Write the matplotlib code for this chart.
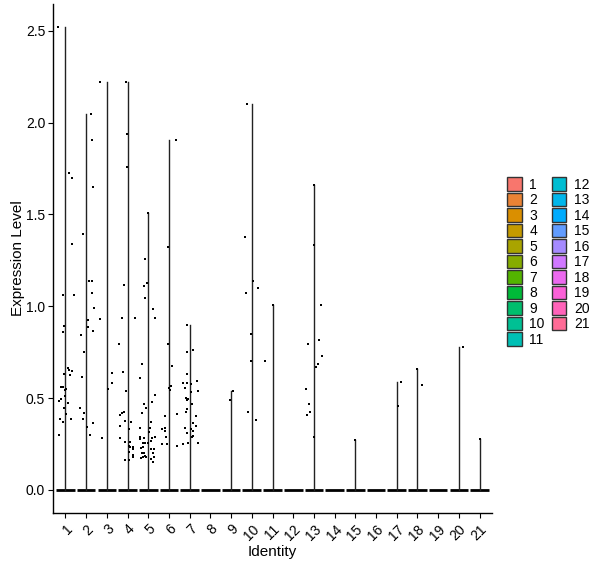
import numpy as np
import matplotlib
matplotlib.use('Agg')
import matplotlib.pyplot as plt
from matplotlib.patches import Patch

plt.rcParams['font.family'] = ['Liberation Sans', 'DejaVu Sans']

# ## Data ## #
clusters = list(range(1, 22))

# non-zero expression values per identity (all other cells sit at 0)
values = {
    1: [2.52, 1.726, 1.697, 1.341, 1.059, 1.061, 0.895, 0.858, 0.662, 0.651,
        0.647, 0.629, 0.624, 0.560, 0.560, 0.548, 0.542, 0.511, 0.483, 0.493,
        0.473, 0.446, 0.414, 0.385, 0.370, 0.385, 0.300],
    2: [2.046, 1.905, 1.649, 1.395, 1.139, 1.139, 1.070, 0.992, 0.924, 0.889,
        0.864, 0.841, 0.750, 0.614, 0.446, 0.419, 0.385, 0.365, 0.343, 0.300],
    3: [2.223, 0.929, 0.636, 0.582, 0.549, 0.284],
    4: [2.22, 1.938, 1.759, 1.113, 0.934, 0.934, 0.793, 0.642, 0.538, 0.425,
        0.419, 0.408, 0.376, 0.370, 0.349, 0.332, 0.284, 0.262, 0.262, 0.239,
        0.235, 0.235, 0.224, 0.206, 0.188, 0.179, 0.163, 0.163],
    5: [1.506, 1.260, 1.124, 1.108, 1.043, 0.983, 0.934, 0.685, 0.609, 0.517,
        0.479, 0.468, 0.446, 0.419, 0.370, 0.338, 0.338, 0.316, 0.289, 0.278,
        0.284, 0.284, 0.289, 0.267, 0.256, 0.256, 0.256, 0.224, 0.224, 0.229,
        0.235, 0.202, 0.202, 0.186, 0.177, 0.174, 0.177, 0.199, 0.177, 0.168,
        0.153],
    6: [1.905, 1.325, 0.793, 0.674, 0.566, 0.555, 0.544, 0.403, 0.414, 0.332,
        0.338, 0.322, 0.289, 0.248, 0.248, 0.237],
    7: [0.896, 0.750, 0.761, 0.631, 0.582, 0.582, 0.576, 0.593, 0.555, 0.538,
        0.533, 0.501, 0.490, 0.495, 0.468, 0.441, 0.425, 0.403, 0.365, 0.349,
        0.338, 0.332, 0.322, 0.311, 0.295, 0.289, 0.256, 0.256, 0.248],
    8: [],
    9: [0.538, 0.490],
    10: [2.10, 1.379, 1.140, 1.097, 1.070, 0.848, 0.701, 0.425, 0.381],
    11: [1.005, 0.701],
    12: [],
    13: [1.661, 1.336, 1.005, 0.815, 0.793, 0.728, 0.685, 0.669, 0.549, 0.468,
         0.425, 0.408, 0.289],
    14: [],
    15: [0.273],
    16: [],
    17: [0.586, 0.456],
    18: [0.656, 0.569],
    19: [],
    20: [0.777],
    21: [0.278],
}

# horizontal jitter of each point (in category units)
offsets = {
    1: [-0.34, 0.18, 0.34, 0.32, -0.11, 0.40, -0.05, -0.14, 0.13, 0.19,
        0.32, -0.05, 0.24, -0.19, -0.13, 0.03, -0.01, -0.03, -0.30, -0.21,
        0.13, -0.05, 0.03, -0.24, -0.10, 0.29, -0.30],
    2: [0.24, 0.29, 0.34, -0.16, 0.14, 0.27, 0.27, 0.37, 0.10, 0.10,
        0.32, -0.25, -0.11, -0.21, -0.30, -0.11, -0.16, 0.32, 0.05, 0.18],
    3: [-0.35, -0.34, 0.27, 0.27, 0.05, -0.21],
    4: [-0.06, -0.01, -0.05, -0.16, -0.29, 0.34, -0.40, -0.24, -0.08, -0.18,
        -0.25, -0.38, -0.14, 0.18, -0.38, 0.05, -0.38, -0.11, 0.14, 0.08,
        0.10, 0.25, 0.25, 0.06, 0.27, 0.27, -0.14, 0.05],
    5: [0.0, -0.14, -0.05, -0.19, -0.14, 0.24, 0.32, -0.30, -0.40, 0.32,
        0.18, -0.19, -0.11, -0.30, 0.13, -0.40, 0.08, 0.05, -0.40, -0.40,
        -0.19, 0.18, 0.32, 0.13, 0.01, -0.23, -0.14, 0.13, 0.29, -0.35,
        -0.23, -0.30, -0.19, -0.14, -0.11, -0.35, -0.23, 0.25, 0.29, 0.13,
        0.21],
    6: [0.32, -0.05, -0.05, 0.13, 0.08, 0.0, 0.05, -0.21, 0.37, -0.35,
        -0.21, -0.21, -0.14, -0.35, -0.11, 0.37],
    7: [-0.14, -0.11, 0.18, -0.11, -0.34, -0.11, 0.05, 0.34, -0.21, 0.38,
        0.05, -0.16, -0.11, -0.06, 0.10, -0.11, -0.19, 0.29, 0.16, 0.29,
        -0.21, 0.08, 0.18, -0.11, 0.18, 0.10, -0.06, 0.38, -0.34],
    8: [],
    9: [0.08, -0.03],
    10: [-0.25, -0.35, 0.04, 0.28, -0.30, -0.06, -0.06, -0.20, 0.22],
    11: [0.03, -0.35],
    12: [],
    13: [0.0, 0.0, 0.36, 0.26, -0.27, 0.40, 0.21, 0.12, -0.37, -0.22,
         -0.17, -0.32, 0.0],
    14: [],
    15: [0.0],
    16: [],
    17: [0.20, 0.04],
    18: [-0.03, 0.21],
    19: [],
    20: [0.18],
    21: [0.0],
}


def hue_pal(n, l=65.0, c=100.0):
    # ggplot2 default discrete palette (HCL hues, converted to sRGB)
    hues = np.linspace(15, 375, n + 1)[:n]
    xn, yn, zn = 95.047, 100.0, 108.883
    un = 4 * xn / (xn + 15 * yn + 3 * zn)
    vn = 9 * yn / (xn + 15 * yn + 3 * zn)
    cols = []
    for h in hues:
        u = c * np.cos(np.radians(h))
        v = c * np.sin(np.radians(h))
        Y = yn * ((l + 16) / 116) ** 3
        up = u / (13 * l) + un
        vp = v / (13 * l) + vn
        X = Y * 9 * up / (4 * vp)
        Z = Y * (12 - 3 * up - 20 * vp) / (4 * vp)
        m = np.array([[3.2404542, -1.5371385, -0.4985314],
                      [-0.9692660, 1.8760108, 0.0415560],
                      [0.0556434, -0.2040259, 1.0572252]])
        rgb = m @ (np.array([X, Y, Z]) / 100.0)
        rgb = np.where(rgb <= 0.0031308, 12.92 * rgb,
                       1.055 * np.power(np.clip(rgb, 0, None), 1 / 2.4) - 0.055)
        cols.append(tuple(np.clip(rgb, 0, 1)))
    return cols


colors = hue_pal(len(clusters))

fig = plt.figure(figsize=(6.0, 5.68), dpi=100)
ax = fig.add_axes([53 / 600, 55 / 568, 439 / 600, 509 / 568])

for i, cl in enumerate(clusters):
    pos = i + 1
    vals = values[cl]
    # violin: spike at zero plus a thin tail up to the max value
    ax.plot([pos - 0.45, pos + 0.45], [0, 0], color='black', lw=2.0,
            solid_capstyle='butt', zorder=2)
    if len(vals) > 0:
        ax.plot([pos, pos], [0, max(vals)], color='#222222', lw=1.0, zorder=2)
        xs = pos + np.array(offsets[cl])
        ax.scatter(xs, vals, s=3.5, marker='s', color='black', lw=0, zorder=3)

ax.set_xlim(0.4, 21.6)
ax.set_ylim(-0.126, 2.646)
ax.set_xticks(range(1, 22))
ax.set_xticklabels([str(c) for c in clusters], rotation=45, ha='right',
                   va='top', rotation_mode='anchor', fontsize=10)
ax.set_yticks([0.0, 0.5, 1.0, 1.5, 2.0, 2.5])
ax.set_yticklabels(['0.0', '0.5', '1.0', '1.5', '2.0', '2.5'], fontsize=10)
ax.tick_params(axis='both', direction='out', length=3.6, width=0.8,
               color='black', labelcolor='black')
ax.tick_params(axis='x', pad=3)
ax.tick_params(axis='y', pad=2)

for side in ['top', 'right']:
    ax.spines[side].set_visible(False)
for side in ['left', 'bottom']:
    ax.spines[side].set_linewidth(1.0)
    ax.spines[side].set_color('black')

ax.set_xlabel('Identity', fontsize=11, labelpad=1.5)
ax.set_ylabel('Expression Level', fontsize=11, labelpad=0.5)

handles = [Patch(facecolor=colors[i], edgecolor='#333333', lw=1.0,
                 label=str(c)) for i, c in enumerate(clusters)]
leg = fig.legend(handles=handles, ncol=2, loc='center left',
                 bbox_to_anchor=(507 / 600, 1 - 262 / 568), frameon=False,
                 fontsize=10, handlelength=1.05, handleheight=1.1,
                 handletextpad=0.55, columnspacing=0.5, labelspacing=0.08,
                 borderaxespad=0.0, borderpad=0.0)

plt.savefig('out.png', dpi=100)
